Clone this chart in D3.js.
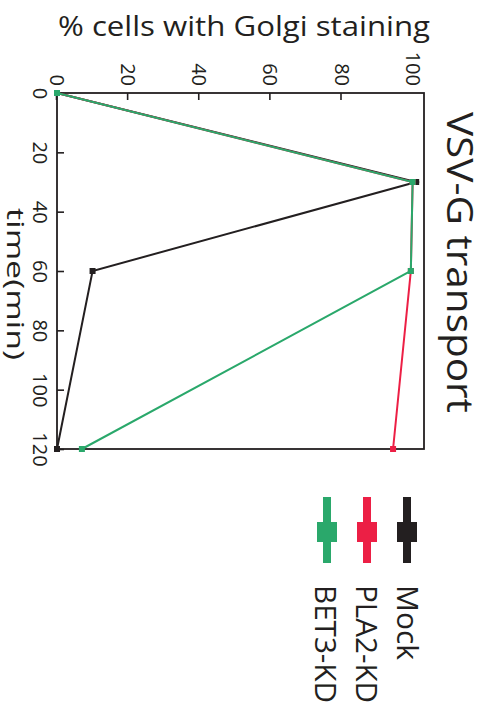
<!DOCTYPE html>
<html>
<head>
<meta charset="utf-8">
<script src="https://cdn.jsdelivr.net/npm/d3@7"></script>
<style>
  body { margin: 0; background: #fff; }
  text { font-family: "Open Sans", "Noto Sans", sans-serif; fill: #231f20; }
</style>
</head>
<body>
<div id="chart"></div>
<script>
// chart data (the figure is drawn upright, then turned 90deg clockwise)
var times      = [0, 30, 60, 120];
var mockVals   = [0, 101, 10, 0];
var pla2Vals   = [0, 100, 99.5, 94.5];
var bet3Vals   = [0, 100, 99.5, 7];
var names      = ["Mock", "PLA2-KD", "BET3-KD"];
var colors     = ["#231f20", "#ec1f45", "#2aa86b"];
var pctTicks   = [0, 20, 40, 60, 80, 100];
var timeTicks  = [0, 20, 40, 60, 80, 100, 120];

var W = 488, H = 713;

var svg = d3.select("#chart").append("svg")
    .attr("width", W)
    .attr("height", H);

svg.append("rect").attr("width", W).attr("height", H).attr("fill", "#fff");

// y label stays horizontal
svg.append("text")
    .attr("x", 58).attr("y", 36)
    .attr("font-size", 28)
    .attr("textLength", 372)
    .attr("lengthAdjust", "spacingAndGlyphs")
    .text("% cells with Golgi staining");

// everything else rotated
var g = svg.append("g").attr("transform", "translate(" + W + ",0) rotate(90)");

var x = d3.scaleLinear().domain([0, 120]).range([93, 449]);
var y = d3.scaleLinear().domain([0, 103.2]).range([431, 64]);

// % axis
var ya = g.append("g")
    .attr("transform", "translate(" + x(0) + ",0)")
    .call(d3.axisLeft(y).tickValues(pctTicks).tickSizeInner(-7).tickSizeOuter(0).tickPadding(7));
ya.select(".domain").remove();
ya.selectAll(".tick line").attr("stroke", "#231f20").attr("stroke-width", 1.6)
    .filter(function(d) { return d === 100; }).remove();
ya.selectAll(".tick text").attr("font-size", 20).attr("fill", "#231f20")
    .style("font-family", "'Open Sans', sans-serif");

// time axis
var xa = g.append("g")
    .attr("transform", "translate(0," + y(0) + ")")
    .call(d3.axisBottom(x).tickValues(timeTicks).tickSizeInner(-7).tickSizeOuter(0).tickPadding(10));
xa.select(".domain").remove();
xa.selectAll(".tick line").attr("stroke", "#231f20").attr("stroke-width", 1.6);
xa.selectAll(".tick text").attr("font-size", 20).attr("fill", "#231f20")
    .style("font-family", "'Open Sans', sans-serif");

// box
g.append("rect")
    .attr("x", x(0)).attr("y", y(103.2))
    .attr("width", x(120) - x(0)).attr("height", y(0) - y(103.2))
    .attr("fill", "none").attr("stroke", "#231f20").attr("stroke-width", 1.8);

var line = d3.line()
    .x(function(d) { return x(d.t); })
    .y(function(d) { return y(d.v); });

var series = [mockVals, pla2Vals, bet3Vals].map(function(vals, i) {
    return { name: names[i], color: colors[i],
             pts: vals.map(function(v, j) { return { t: times[j], v: v }; }) };
});

series.forEach(function(s) {
    g.append("path")
        .datum(s.pts)
        .attr("d", line)
        .attr("fill", "none")
        .attr("stroke", s.color)
        .attr("stroke-width", 2);
    g.selectAll(null)
        .data(s.pts)
        .enter().append("rect")
        .attr("x", function(d) { return x(d.t) - 3; })
        .attr("y", function(d) { return y(d.v) - 3; })
        .attr("width", 6).attr("height", 6)
        .attr("fill", s.color);
});

// title
g.append("text")
    .attr("x", 112).attr("y", 41)
    .attr("font-size", 36)
    .attr("textLength", 301)
    .attr("lengthAdjust", "spacingAndGlyphs")
    .text("VSV-G transport");

// x label
g.append("text")
    .attr("x", 208).attr("y", 481)
    .attr("font-size", 24)
    .attr("textLength", 152)
    .attr("lengthAdjust", "spacingAndGlyphs")
    .text("time(min)");

// legend
var labLen = [75, 118, 118];
series.forEach(function(s, i) {
    var ly = 81 + 40 * i;
    g.append("line")
        .attr("x1", 497).attr("x2", 563)
        .attr("y1", ly).attr("y2", ly)
        .attr("stroke", s.color).attr("stroke-width", 8);
    g.append("rect")
        .attr("x", 522).attr("y", ly - 10)
        .attr("width", 20).attr("height", 20)
        .attr("fill", s.color);
    g.append("text")
        .attr("x", 585).attr("y", 91 + 41 * i)
        .attr("font-size", 30)
        .attr("textLength", labLen[i])
        .attr("lengthAdjust", "spacingAndGlyphs")
        .text(s.name);
});
</script>
</body>
</html>
